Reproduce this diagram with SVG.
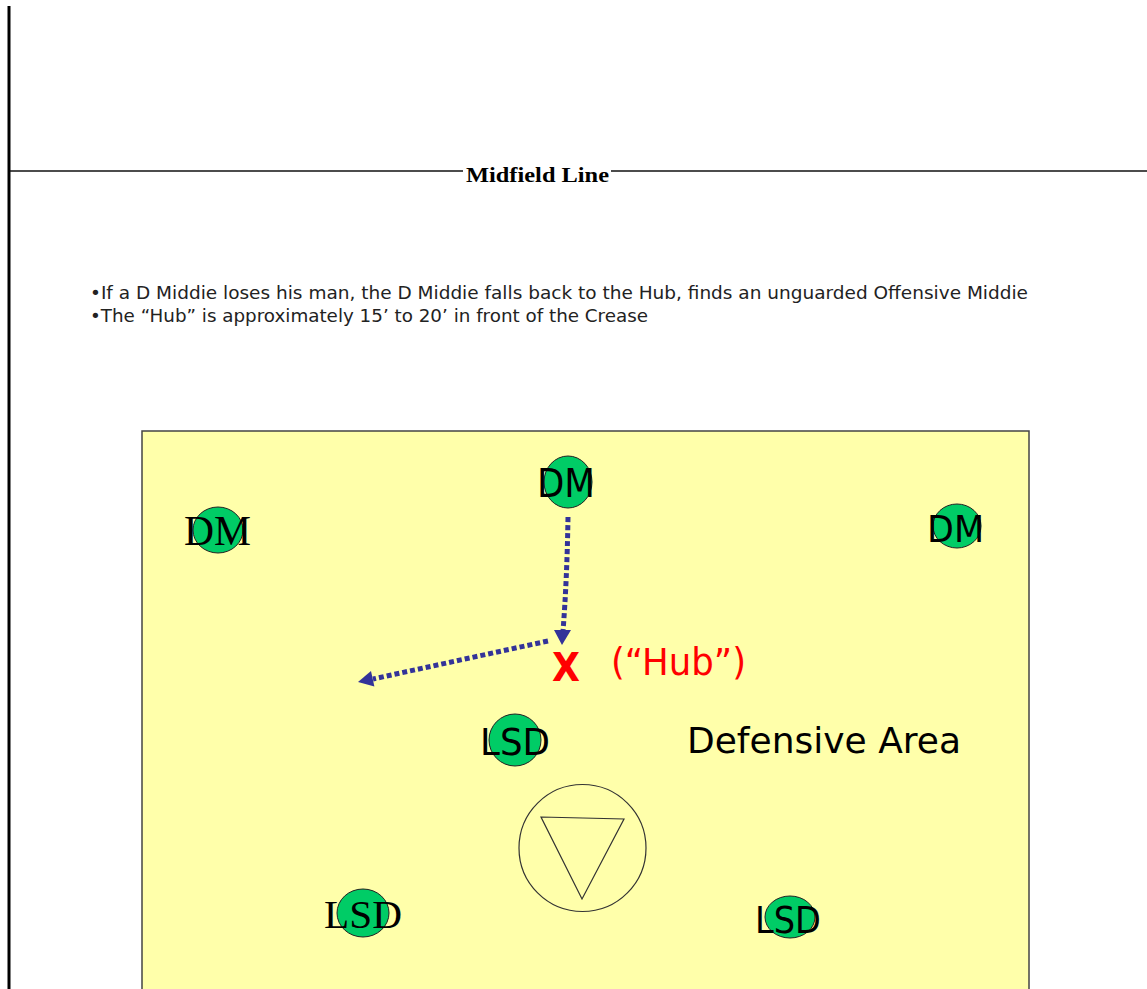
<svg xmlns="http://www.w3.org/2000/svg" width="1147" height="989" viewBox="0 0 1147 989">
<style>
.player{fill:#00CC66;stroke:#222;stroke-width:1}
.sans{font-family:"DejaVu Sans","Liberation Sans",sans-serif}
.serif{font-family:"Liberation Serif","Times New Roman",serif}
.lbl{fill:#000}
.route{fill:none;stroke:#333399;stroke-width:5;stroke-dasharray:5 3}
.head{fill:#333399}
</style>
<rect x="0" y="0" width="1147" height="989" fill="#fff"/>
<g id="field-lines">
<line x1="9" y1="6" x2="9" y2="989" stroke="#000" stroke-width="3"/>
<line x1="10" y1="171" x2="463" y2="171" stroke="#111" stroke-width="1.5"/>
<line x1="611" y1="171" x2="1147" y2="171" stroke="#111" stroke-width="1.5"/>
<text x="466" y="182" class="serif" font-weight="bold" font-size="22" textLength="143" lengthAdjust="spacingAndGlyphs">Midfield Line</text>
</g>
<g id="notes" class="sans" font-size="17.5" fill="#222">
<text x="90" y="299" textLength="938" lengthAdjust="spacingAndGlyphs">•If a D Middie loses his man, the D Middie falls back to the Hub, finds an unguarded Offensive Middie</text>
<text x="90" y="322" textLength="558" lengthAdjust="spacingAndGlyphs">•The “Hub” is approximately 15’ to 20’ in front of the Crease</text>
</g>
<g id="defensive-area">
<rect x="142" y="431" width="887" height="570" fill="#FFFFAA" stroke="#444" stroke-width="1.5"/>
<text x="687" y="753" class="sans" font-size="36" textLength="274" lengthAdjust="spacingAndGlyphs">Defensive Area</text>
</g>
<g id="crease">
<circle cx="582.5" cy="848" r="63.5" fill="none" stroke="#333" stroke-width="1.2"/>
<polygon points="541,817 624,819 582,899" fill="none" stroke="#333" stroke-width="1.2"/>
</g>
<g id="hub">
<text x="552" y="681" class="sans" font-weight="bold" font-size="39" fill="#FF0000" textLength="28" lengthAdjust="spacingAndGlyphs">X</text>
<text x="611" y="675" class="sans" font-size="37" fill="#FF0000" textLength="135" lengthAdjust="spacingAndGlyphs">(“Hub”)</text>
</g>
<g id="connectors">
<path class="route" d="M568,517 Q567,580 563,631"/>
<polygon class="head" points="554,630 571,630 562,645"/>
<path class="route" d="M548,641 Q460,660 373,679"/>
<polygon class="head" points="358,682 371,671 374.4,686.6"/>
</g>
<g id="dm-top">
<ellipse class="player" cx="568" cy="482" rx="24" ry="26"/>
<text x="537" y="497" class="sans lbl" font-size="39" textLength="58" lengthAdjust="spacingAndGlyphs">DM</text>
</g>
<g id="dm-left">
<ellipse class="player" cx="218" cy="530" rx="25" ry="23"/>
<text x="184" y="545" class="serif lbl" font-size="42" textLength="67" lengthAdjust="spacingAndGlyphs">DM</text>
</g>
<g id="dm-right">
<ellipse class="player" cx="957" cy="526" rx="24" ry="22"/>
<text x="927" y="542" class="sans lbl" font-size="38" textLength="57" lengthAdjust="spacingAndGlyphs">DM</text>
</g>
<g id="lsd-top">
<ellipse class="player" cx="515" cy="740" rx="26" ry="26"/>
<text x="480" y="755" class="sans lbl" font-size="38" textLength="70" lengthAdjust="spacingAndGlyphs">LSD</text>
</g>
<g id="lsd-left">
<ellipse class="player" cx="363" cy="913" rx="26" ry="24"/>
<text x="324" y="928" class="serif lbl" font-size="41" textLength="78" lengthAdjust="spacingAndGlyphs">LSD</text>
</g>
<g id="lsd-right">
<ellipse class="player" cx="790" cy="917" rx="25" ry="21"/>
<text x="755" y="933" class="sans lbl" font-size="38" textLength="66" lengthAdjust="spacingAndGlyphs">LSD</text>
</g>
</svg>
